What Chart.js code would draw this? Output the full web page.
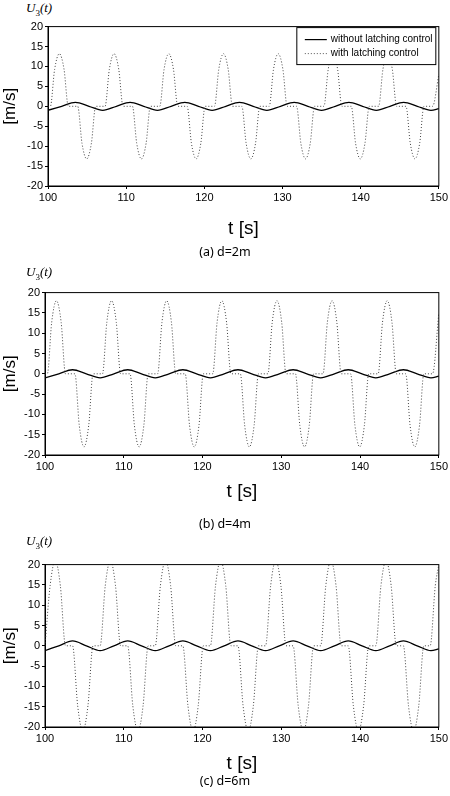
<!DOCTYPE html>
<html><head><meta charset="utf-8">
<script src="https://cdn.jsdelivr.net/npm/chart.js@4"></script>
<style>
body{margin:0;width:450px;height:796px;background:#fff;position:relative;overflow:hidden;font-family:"Liberation Sans",Arial,sans-serif}
.c{position:absolute;left:0;width:450px}
.u{position:absolute;left:26px;font-family:"Liberation Serif",serif;font-style:italic;font-size:13px}
.u sub{font-size:9px;font-style:normal}
.cap{position:absolute;left:0;width:450px;text-align:center;font-family:"Noto Sans",sans-serif;font-size:12.5px}
</style></head><body>
<div class="u" style="top:0px">U<sub>3</sub>(t)</div>
<div class="c" style="top:18px;height:226px"><canvas id="c1"></canvas></div>
<div class="cap" style="top:243px">(a) d=2m</div>
<div class="u" style="top:264px">U<sub>3</sub>(t)</div>
<div class="c" style="top:284px;height:223px"><canvas id="c2"></canvas></div>
<div class="cap" style="top:515px">(b) d=4m</div>
<div class="u" style="top:533px">U<sub>3</sub>(t)</div>
<div class="c" style="top:556px;height:223px"><canvas id="c3"></canvas></div>
<div class="cap" style="top:772px">(c) d=6m</div>
<script>
// key points (peaks, troughs, zero crossings)
const baseTimes=[100,101.75,103.5,105.25,107,108.75,110.5,112.25,114,115.75,117.5,119.25,121,122.75,124.5,126.25,128,129.75,131.5,133.25,135,136.75,138.5,140.25,142,143.75,145.5,147.25,149,150];
const freeA=[-1,0,1,0,-1,0,1,0,-1,0,1,0,-1,0,1,0,-1,0,1,0,-1,0,1,0,-1,0,1,0,-1,-0.6];
const freeB=[-1,0,1,0,-1,0,1,0,-1,0,1,0,-1,0,1,0,-1,0,1,0,-1,0,1,0,-1,0,1,0,-1,-0.6];
const freeC=[-1.2,0,1.2,0,-1.2,0,1.2,0,-1.2,0,1.2,0,-1.2,0,1.2,0,-1.2,0,1.2,0,-1.2,0,1.2,0,-1.2,0,1.2,0,-1.2,-0.75];

const latchTimesAB=[100,
100.3,100.85,101.45,102.05,102.6,103.8,104.35,104.95,105.55,106.1,
107.3,107.85,108.45,109.05,109.6,110.8,111.35,111.95,112.55,113.1,
114.3,114.85,115.45,116.05,116.6,117.8,118.35,118.95,119.55,120.1,
121.3,121.85,122.45,123.05,123.6,124.8,125.35,125.95,126.55,127.1,
128.3,128.85,129.45,130.05,130.6,131.8,132.35,132.95,133.55,134.1,
135.3,135.85,136.45,137.05,137.6,138.8,139.35,139.95,140.55,141.1,
142.3,142.85,143.45,144.05,144.6,145.8,146.35,146.95,147.55,148.1,
149.2,150];
const latchA=[0,
0,9.3,13.2,9.3,0,0,-9.3,-13.2,-9.3,0,
0,9.3,13.2,9.3,0,0,-9.3,-13.2,-9.3,0,
0,9.3,13.2,9.3,0,0,-9.3,-13.2,-9.3,0,
0,9.3,13.2,9.3,0,0,-9.3,-13.2,-9.3,0,
0,9.3,13.2,9.3,0,0,-9.3,-13.2,-9.3,0,
0,9.3,13.2,9.3,0,0,-9.3,-13.2,-9.3,0,
0,9.3,13.2,9.3,0,0,-9.3,-13.2,-9.3,0,
0,8];
const latchB=[0,
0,12.7,18,12.7,0,0,-12.7,-18,-12.7,0,
0,12.7,18,12.7,0,0,-12.7,-18,-12.7,0,
0,12.7,18,12.7,0,0,-12.7,-18,-12.7,0,
0,12.7,18,12.7,0,0,-12.7,-18,-12.7,0,
0,12.7,18,12.7,0,0,-12.7,-18,-12.7,0,
0,12.7,18,12.7,0,0,-12.7,-18,-12.7,0,
0,12.7,18,12.7,0,0,-12.7,-18,-12.7,0,
0,15];
const latchTimesC=[
100,100.65,101.3,101.95,102.6,103.5,104.15,104.8,105.45,106.1,
107,107.65,108.3,108.95,109.6,110.5,111.15,111.8,112.45,113.1,
114,114.65,115.3,115.95,116.6,117.5,118.15,118.8,119.45,120.1,
121,121.65,122.3,122.95,123.6,124.5,125.15,125.8,126.45,127.1,
128,128.65,129.3,129.95,130.6,131.5,132.15,132.8,133.45,134.1,
135,135.65,136.3,136.95,137.6,138.5,139.15,139.8,140.45,141.1,
142,142.65,143.3,143.95,144.6,145.5,146.15,146.8,147.45,148.1,
148.9,149.55,150];
const latchC=[
0,14.8,21,14.8,0,0,-14.8,-21,-14.8,0,
0,14.8,21,14.8,0,0,-14.8,-21,-14.8,0,
0,14.8,21,14.8,0,0,-14.8,-21,-14.8,0,
0,14.8,21,14.8,0,0,-14.8,-21,-14.8,0,
0,14.8,21,14.8,0,0,-14.8,-21,-14.8,0,
0,14.8,21,14.8,0,0,-14.8,-21,-14.8,0,
0,14.8,21,14.8,0,0,-14.8,-21,-14.8,0,
0,14.8,20];
const xTicks=[100,110,120,130,140,150];
const yTicks=[-20,-15,-10,-5,0,5,10,15,20];
const seriesNames=["without latching control","with latching control"];

const pts=(t,v)=>t.map((x,i)=>({x,y:v[i]}));
const frame={id:'frame',afterDatasetsDraw(ch,a,o){const c=ch.ctx,A=ch.chartArea;c.save();c.strokeStyle='#000';c.lineWidth=1;c.strokeRect(A.left,A.top,A.right-A.left,A.bottom-A.top);
 if(o.legend){const x0=A.right-142,y0=A.top+1,w=139,h=37;c.fillStyle='#fff';c.fillRect(x0,y0,w,h);c.strokeRect(x0,y0,w,h);
  c.font='10px "Liberation Sans",Arial';c.fillStyle='#000';c.textBaseline='middle';
  c.beginPath();c.lineWidth=1.2;c.moveTo(x0+8,y0+12);c.lineTo(x0+30,y0+12);c.stroke();
  c.beginPath();c.lineWidth=1;c.setLineDash([1,2]);c.strokeStyle='#555';c.moveTo(x0+8,y0+26);c.lineTo(x0+30,y0+26);c.stroke();c.setLineDash([]);
  c.fillText(seriesNames[0],x0+34,y0+12);c.fillText(seriesNames[1],x0+34,y0+26);}
 c.restore();}};
function make(id,free,lt,lv,left,right,legend,axisH,tpad){
 new Chart(document.getElementById(id),{type:'line',
  data:{datasets:[
   {label:seriesNames[1],data:pts(lt,lv),borderColor:'#444',borderWidth:1,borderDash:[1,2],pointRadius:0,cubicInterpolationMode:'monotone'},
   {label:seriesNames[0],data:pts(baseTimes,free),borderColor:'#000',borderWidth:1.3,pointRadius:0,cubicInterpolationMode:'monotone'}]},
  options:{responsive:true,maintainAspectRatio:false,animation:false,
   layout:{padding:{top:5,right:right,left:0,bottom:0}},
   plugins:{legend:{display:false},tooltip:{enabled:false},frame:{legend}},
   scales:{
    x:{type:'linear',min:100,max:150,afterBuildTicks:s=>{s.ticks=xTicks.map(v=>({value:v}))},
     afterFit:s=>{s.height=axisH},
     grid:{drawOnChartArea:false,tickLength:3,color:'#000'},border:{color:'#000'},
     ticks:{color:'#000',font:{size:11,family:'"Liberation Sans",Arial'},padding:2,maxRotation:0},
     title:{display:true,text:'t [s]',color:'#000',font:{size:19,family:'"Liberation Sans",Arial'},padding:{top:tpad}}},
    y:{min:-20,max:20,afterBuildTicks:s=>{s.ticks=yTicks.map(v=>({value:v}))},
     afterFit:s=>{s.width=left},
     grid:{drawOnChartArea:false,tickLength:3,color:'#000'},border:{color:'#000'},
     ticks:{color:'#000',font:{size:11,family:'"Liberation Sans",Arial'},padding:2},
     title:{display:true,text:'[m/s]',color:'#000',font:{size:17,family:'"Liberation Sans",Arial'},padding:0}}}},
  plugins:[frame]});
}
make('c1',freeA,latchTimesAB,latchA,48,10,true,58,14);
make('c2',freeB,latchTimesAB,latchB,45,8,false,52,8);
make('c3',freeC,latchTimesC,latchC,45,8,false,52,8);
</script></body></html>
